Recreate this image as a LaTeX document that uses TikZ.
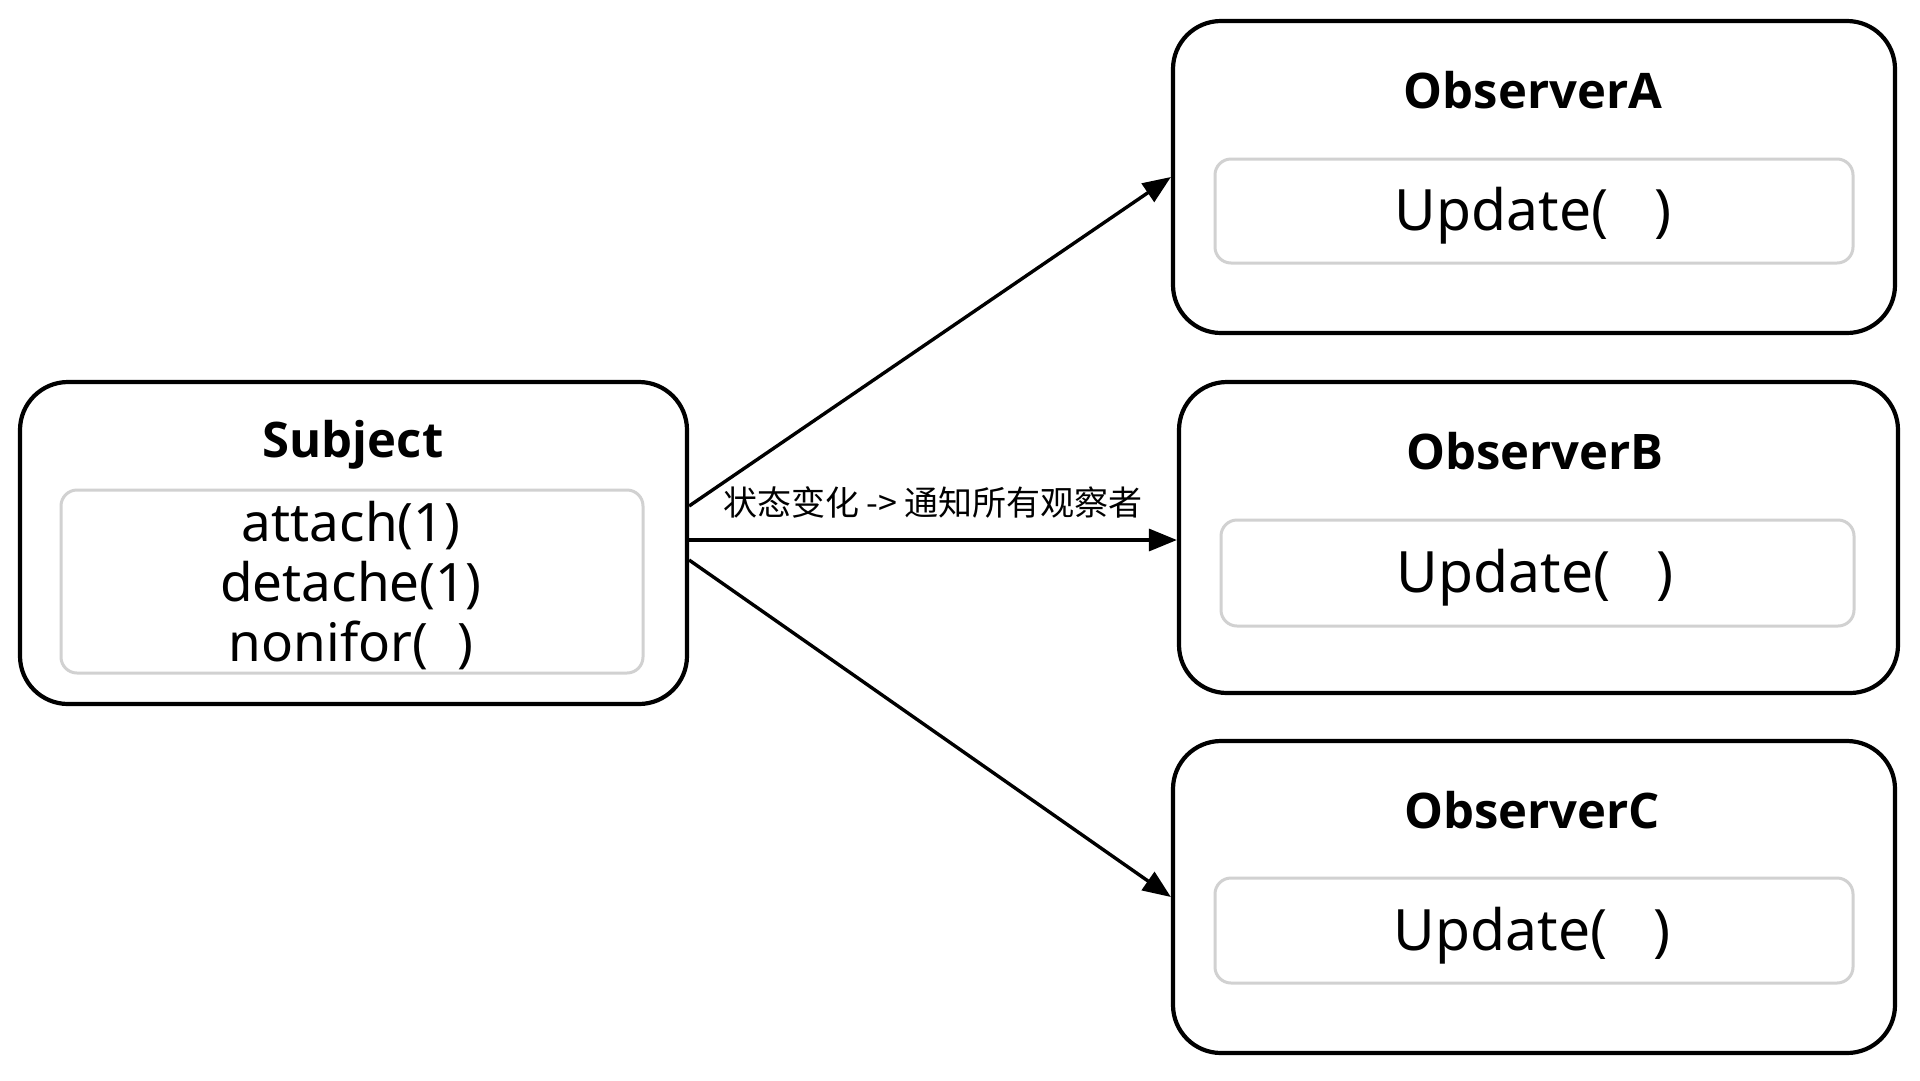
\documentclass[tikz,border=0pt]{standalone}
\usepackage{fontspec}
\setmainfont{Noto Sans}
\newfontfamily\titlefont{Open Sans}[BoldFont=* Bold]
\newfontfamily\cjk{Noto Sans CJK SC}
\usetikzlibrary{arrows.meta}
\tikzset{
  outerbox/.style={draw=black, line width=4.2pt, rounded corners=48pt, fill=white, inner sep=0pt},
  innerbox/.style={draw=black!18, line width=3pt, rounded corners=16pt, inner sep=0pt},
  titletext/.style={font=\titlefont\bfseries\fontsize{49}{56}\selectfont, inner sep=0pt},
  methodtext/.style={font=\fontsize{53}{60}\selectfont, align=center, inner sep=0pt},
  updtext/.style={font=\fontsize{57}{64}\selectfont, inner sep=0pt},
  arr/.style={line width=3.4pt, -{Triangle[length=28pt,width=22pt]}},
  lbl/.style={font=\cjk\fontsize{34}{40}\selectfont, inner sep=0pt}
}
\begin{document}
\begin{tikzpicture}[x=1pt,y=-1pt]
\useasboundingbox[fill=white] (0,0) rectangle (1920,1080);
% Subject
\node[outerbox, minimum width=667pt, minimum height=322pt] (subj) at (353.5,543) {};
\node[innerbox, minimum width=582pt, minimum height=183pt] (subjin) at (352,581.5) {};
\node[titletext] (subjt) at (353,445) {Subject};
\node[methodtext] (subjm) at (351,586) {attach(1)\\detache(1)\\nonifor(\hspace{0.55em})};
% Observer A
\node[outerbox, minimum width=722pt, minimum height=312pt] (obsA) at (1534,177) {};
\node[innerbox, minimum width=638pt, minimum height=104pt] (obsAin) at (1534,211) {};
\node[titletext] (obsAt) at (1533,90) {ObserverA};
\node[updtext] (obsAu) at (1533,216) {Update(\hspace{0.8em})};
% Observer B
\node[outerbox, minimum width=719pt, minimum height=311pt] (obsB) at (1538.5,537.5) {};
\node[innerbox, minimum width=633pt, minimum height=106pt] (obsBin) at (1537.5,573) {};
\node[titletext] (obsBt) at (1535,451) {ObserverB};
\node[updtext] (obsBu) at (1535,578) {Update(\hspace{0.8em})};
% Observer C
\node[outerbox, minimum width=722pt, minimum height=312pt] (obsC) at (1534,897) {};
\node[innerbox, minimum width=638pt, minimum height=105pt] (obsCin) at (1534,930.5) {};
\node[titletext] (obsCt) at (1532,810) {ObserverC};
\node[updtext] (obsCu) at (1532,936) {Update(\hspace{0.8em})};
% connectors
\draw[arr] ([yshift=37pt]subj.east) -- (obsA.west);
\draw[arr] ([yshift=3pt]subj.east) -- ([yshift=3pt]subj.east -| obsB.west)
  node[lbl, midway, anchor=south, yshift=20pt] (lblB) {状态变化 -> 通知所有观察者};
\draw[arr] ([yshift=-17pt]subj.east) -- (obsC.west);
\end{tikzpicture}
\end{document}
